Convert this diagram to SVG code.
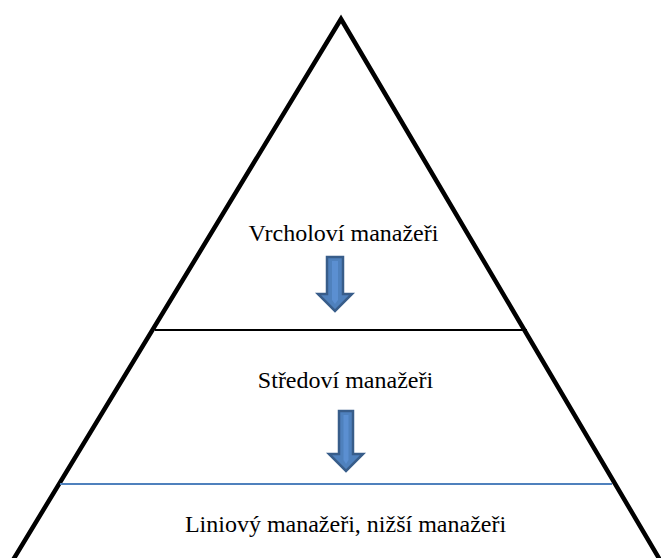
<svg xmlns="http://www.w3.org/2000/svg" width="661" height="558" viewBox="0 0 661 558">
<style>
.t{font-family:'Liberation Serif','Times New Roman','DejaVu Serif',serif;font-size:24px;fill:#000;text-anchor:middle}
.arr{fill:#4f81bd;stroke:#385d8a;stroke-width:2.5;stroke-linejoin:miter}
.hl{fill:#5b8fd1;stroke:none}
</style>
<rect width="661" height="558" fill="#fff"/>
<g id="pyramid">
<polyline points="13,560 341,19 660,560" fill="none" stroke="#000" stroke-width="4.5" stroke-linejoin="miter"/>
</g>
<g id="connectors">
<line x1="155" y1="330" x2="527" y2="330" stroke="#000" stroke-width="2"/>
<line x1="60" y1="484" x2="612" y2="484" stroke="#4f81bd" stroke-width="2"/>
<g id="arrow1">
<path class="arr" d="M327,257 H343 V294 H352 L335,311 L318,294 H327 Z"/>
<path class="hl" d="M332,261 H338 V300 L335,304 L332,300 Z"/>
</g>
<g id="arrow2">
<path class="arr" d="M339,411 H353 V454 H363 L346,471 L329,454 H339 Z"/>
<path class="hl" d="M343.5,415 H348.5 V460 L346,464 L343.5,460 Z"/>
</g>
</g>
<g id="top"><text class="t" x="343.5" y="241">Vrcholoví manažeři</text></g>
<g id="middle"><text class="t" x="345.5" y="388">Středoví manažeři</text></g>
<g id="bottom"><text class="t" x="345.5" y="532">Liniový manažeři, nižší manažeři</text></g>
</svg>
